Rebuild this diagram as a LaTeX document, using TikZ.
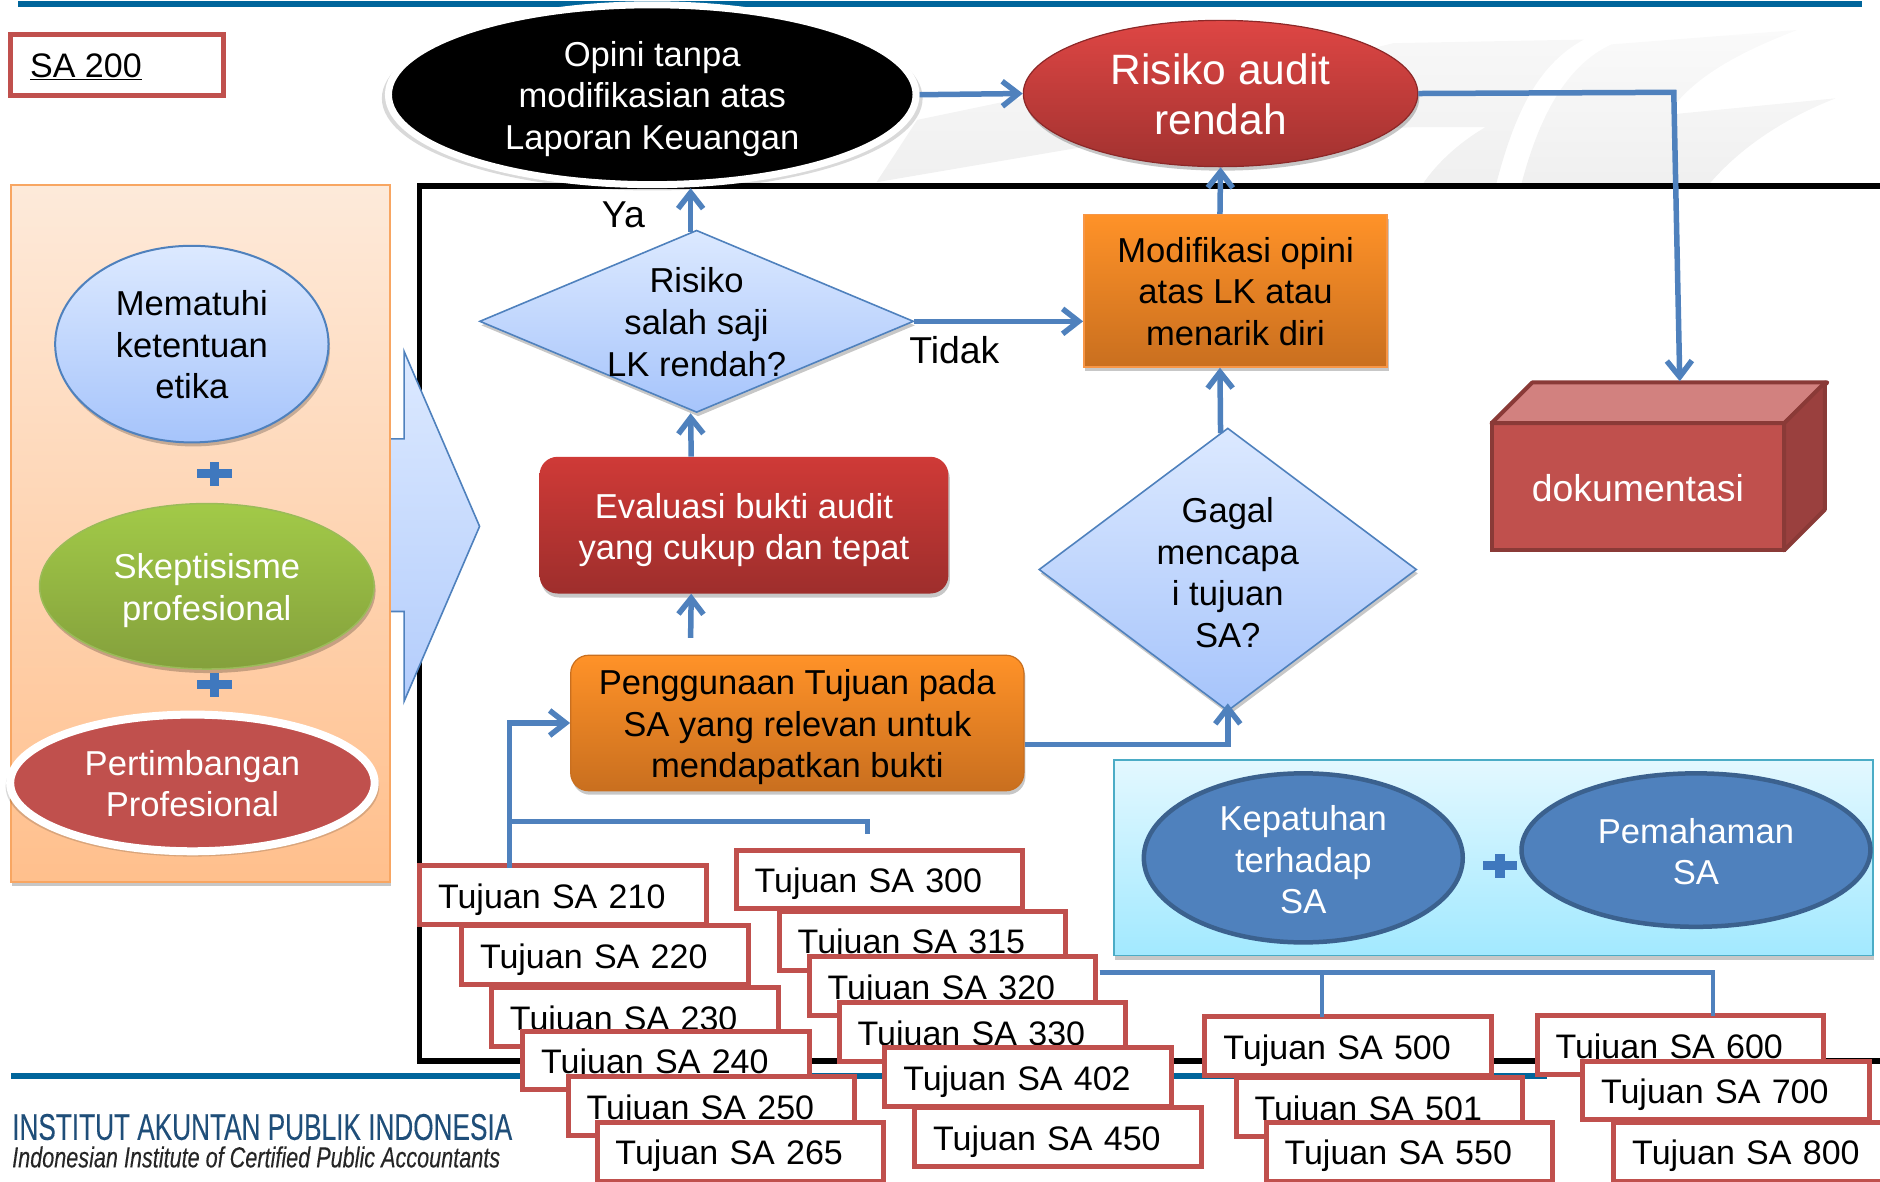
\documentclass[tikz,border=0pt]{standalone}
\usepackage{fontspec}
\setmainfont{Liberation Sans}
\newfontfamily\logofont[FakeBold=0.25]{Liberation Sans}
\usetikzlibrary{shapes.geometric,shadows,arrows.meta,calc}
\definecolor{topline}{HTML}{00659B}
\definecolor{conn}{HTML}{4F81BD}
\definecolor{redbox}{HTML}{C0504D}
\definecolor{plusc}{HTML}{3F78BE}
\definecolor{blue1}{HTML}{DCE9FF}
\definecolor{blue2}{HTML}{A6C4FB}
\definecolor{orangeT}{HTML}{FF9228}
\definecolor{orangeB}{HTML}{C96F1F}
\definecolor{orangeL}{HTML}{F79646}
\definecolor{logoblue}{HTML}{1F4E79}
\newcommand{\fsn}{\fontsize{34.6}{41.6}\selectfont}
\newcommand{\fsl}{\fontsize{34}{41.6}\selectfont}
\newcommand{\fsm}{\fontsize{37.4}{44}\selectfont}
\newcommand{\fsb}{\fontsize{42.5}{50.4}\selectfont}
\newcommand{\ctr}[1]{\smash{\makebox[0pt]{\raisebox{\dimexpr-.25em-2.4pt\relax}{\begin{tabular}[c]{@{}c@{}}#1\end{tabular}}}}}
\tikzset{
  sz/.style 2 args={minimum width=#1*1.199pt,minimum height=#2*1.199pt,inner sep=0pt},
  softshadow/.style={drop shadow={shadow xshift=1.5pt,shadow yshift=-4pt,opacity=.22,fill=black}},
  ringshadow/.style={drop shadow={shadow xshift=0pt,shadow yshift=-3.5pt,shadow scale=1.025,opacity=.15,fill=black}},
  base/.style={font=\fsn,inner sep=0pt},
  ell/.style={base,ellipse},
  dia/.style={base,diamond,top color=blue1,bottom color=blue2,draw=conn,line width=1.6pt,softshadow},
  sabox/.style={font=\fsl,rectangle,draw=redbox,line width=5pt,fill=white,anchor=north west,outer sep=0pt,
    inner xsep=18.4pt,inner ysep=0pt,text width=249.8pt,align=left,text height=28.8pt,text depth=2.2pt,minimum height=58.8pt},
  conline/.style={draw=conn,line width=5.5pt},
  conarrow/.style={conline,-{Straight Barb[length=16pt,width=25pt]}},
  plussign/.pic={
    \fill[plusc] (-14.5,-3.5) rectangle (14.5,3.5);
    \fill[plusc] (-4,-10) rectangle (4,10);
  }
}
\begin{document}
\begin{tikzpicture}[x=1.19898pt,y=-1.19898pt]
\useasboundingbox (0,0) rectangle (1568,985.8);
\clip (0,0) rectangle (1568,985.8);
% watermark
\path[top color=black!3,bottom color=black!6] (731,152) -- (765,100) -- (880,76) -- (1000,76) -- (1162,36) -- (1321,33) .. controls (1280,55) and (1262,100) .. (1248,153) -- (1187,153) .. controls (1197,138) and (1215,120) .. (1239,106) -- (1180,106) -- (930,118) -- (895,124) -- cycle;
\path[top color=black!2,bottom color=black!6] (1344,37) -- (1499,25) .. controls (1455,42) and (1420,60) .. (1398,86) -- (1398,95) -- (1531,82) .. controls (1485,100) and (1450,125) .. (1426,153) -- (1269,153) .. controls (1283,100) and (1305,55) .. (1344,37) -- cycle;
% rules
\fill[topline] (15,1) rectangle (1553,6);
\fill[topline] (9,895) rectangle (1290,900);
% logo
\node[anchor=west,inner sep=0pt,text=logoblue] (logo1) at (10,940) {\resizebox{500pt}{26pt}{\logofont INSTITUT AKUNTAN PUBLIK INDONESIA}};
\node[anchor=west,inner sep=0pt,text=black!85] (logo2) at (10,965) {\resizebox{488pt}{21pt}{\logofont\itshape Indonesian Institute of Certified Public Accountants}};
% frame
\draw[black,line width=5.5pt] (1640,155) -- (350,155) -- (350,885) -- (1640,885);
% SA 200
\node[rectangle,draw=redbox,line width=5pt,fill=white,sz={177}{51}] (sa) at (97.5,54.5) {};
\node[base,font=\fsl,anchor=west] (satext) at (25,56) {\underline{SA 200}};
% callout
\path[draw=conn,line width=1.6pt,top color=blue1,bottom color=blue2!85!white] (325,366) -- (337,366) -- (337,293) -- (400,439) -- (337,585) -- (337,510) -- (325,510) -- cycle;
% left panel
\node[rectangle,sz={316}{581},top color=orangeL!20!white,bottom color=orange!42!white!95!red,draw=orangeL!85!white,line width=2pt,softshadow] (panel) at (167,445) {};
\node[ell,sz={228}{164},top color=blue1,bottom color=blue2,draw=conn,line width=2pt,softshadow] (etika) at (160,287) {\ctr{Mematuhi\\ketentuan\\etika}};
\pic at (179,395) {plussign};
\node[ell,sz={279}{138},top color={rgb,255:red,162;green,202;blue,72},bottom color={rgb,255:red,132;green,160;blue,60},draw={rgb,255:red,155;green,187;blue,89},line width=1.5pt,softshadow,text=white] (skep) at (172.5,489) {\ctr{Skeptisisme\\profesional}};
\pic at (179,571) {plussign};
\node[ell,sz={304}{114},fill=redbox,draw=white,line width=8pt,ringshadow,text=white] (pert) at (160.5,653) {\ctr{Pertimbangan\\Profesional}};
% top ellipses
\node[ell,sz={440}{150},fill=black,draw=white,line width=7pt,ringshadow,text=white] (opini) at (544,79) {\ctr{Opini tanpa\\modifikasian atas\\Laporan Keuangan}};
\node[ell,font=\fsb,sz={329}{122},top color={rgb,255:red,222;green,70;blue,68},bottom color={rgb,255:red,162;green,50;blue,48},draw={rgb,255:red,140;green,40;blue,40},line width=1.2pt,softshadow,text=white] (risiko) at (1018,78) {\raisebox{1.8pt}{\ctr{Risiko audit\\rendah}}};
% flow
\node[dia,sz={362}{152}] (d1) at (581,268) {\ctr{Risiko\\salah saji\\LK rendah?}};
\node[dia,sz={315}{236}] (d2) at (1024,475) {\raisebox{-4.8pt}{\ctr{Gagal\\mencapa\\i tujuan\\SA?}}};
\node[base,rectangle,sz={253}{127},top color=orangeT,bottom color=orangeB,draw=orangeL,line width=1.6pt,softshadow] (mod) at (1030.5,242.5) {\ctr{Modifikasi opini\\atas LK atau\\menarik diri}};
\node[base,rectangle,rounded corners=18pt,sz={341}{114},top color={rgb,255:red,207;green,58;blue,55},bottom color={rgb,255:red,158;green,46;blue,44},text=white,softshadow] (eval) at (620.5,438) {\raisebox{-1.2pt}{\ctr{Evaluasi bukti audit\\yang cukup dan tepat}}};
\node[base,rectangle,rounded corners=18pt,sz={378}{113},top color=orangeT,bottom color=orangeB,draw=orangeB,line width=1.2pt,softshadow] (peng) at (665,603) {\ctr{Penggunaan Tujuan pada\\SA yang relevan untuk\\mendapatkan bukti}};
% document box
\node[base,font=\fsm,rectangle,outer sep=0pt,sz={244}{106},fill=redbox,draw=redbox!72!black,line width=4pt,text=white] (doc) at (1366,406) {\ctr{dokumentasi}};
\draw[fill=redbox!72!white,draw=redbox!72!black,line width=4pt,line join=round] (doc.north west) -- ++(34,-34) -- ++(246,0) -- (doc.north east) -- cycle;
\draw[fill=redbox!80!black,draw=redbox!72!black,line width=4pt,line join=round] (doc.north east) -- ++(34,-34) -- ++(0,106) -- (doc.south east) -- cycle;
% cyan panel
\node[rectangle,sz={633}{163},top color={rgb,255:red,227;green,248;blue,255},bottom color={rgb,255:red,162;green,233;blue,255},draw={rgb,255:red,75;green,172;blue,198},line width=1.8pt,softshadow] (cyanp) at (1245.5,715.5) {};
\node[ell,sz={266}{141},fill=conn,draw=conn!75!black,line width=4.5pt,text=white] (kep) at (1087,715.5) {\raisebox{-2.4pt}{\ctr{Kepatuhan\\terhadap\\SA}}};
\node[ell,sz={291}{128},fill=conn,draw=conn!75!black,line width=4.5pt,text=white] (pem) at (1414.5,709) {\raisebox{-1.8pt}{\ctr{Pemahaman\\SA}}};
\pic at (1251,722) {plussign};
% labels
\node[base,font=\fsm] (ya) at (520,179) {Ya};
\node[base,font=\fsm] (tidak) at (796,292) {Tidak};
% connectors
\draw[conarrow] (opini.east) -- (risiko.west);
\draw[conarrow] ($(d1.north)+(-5,2)$) -- ($(opini.south)+(32,0)$);
\draw[conarrow] (d1.east) -- (d1.east -| mod.west);
\draw[conarrow] ($(eval.north)+(-44,0)$) -- ($(d1.south)+(-5,0)$);
\draw[conarrow] ($(peng.north)+(-89,-14)$) -- ($(eval.south)+(-44,0)$);
\draw[conarrow] ($(peng.east)+(0,18)$) -| ($(d2.south)+(0,-7)$);
\draw[conarrow] ($(d2.north)+(-6,5)$) -- ($(mod.south)+(-13,0)$);
\draw[conarrow] ($(mod.north)+(-13,0)$) -- (risiko.south);
\coordinate (bend) at (1396,77);
\draw[conarrow] (risiko.east) -- (bend) -- ($(doc.north east)+(-87,-35)$);
% SA boxes
\foreach \nm/\tx/\px/\py in {b300/300/614/709,b315/315/650/760,b320/320/675/798,b330/330/700/836,b402/402/738/874,b450/450/763/924,
  b210/210/350/722,b220/220/385/772,b230/230/410/824,b240/240/436/860,b250/250/474/898,b265/265/498/936,
  b500/500/1005/848,b501/501/1031/899,b550/550/1056/936,
  b600/600/1282/847,b700/700/1320/885,b800/800/1346/936}
  \node[sabox] (\nm) at (\px,\py) {Tujuan SA \tx};
% box connectors
\draw[conarrow] ($(b210.north west)+(75,2)$) |- (peng.west);
\coordinate (j1) at ($(b210.north west)+(75,-37)$);
\coordinate (e1) at ($(b300.north)+(-10,-13)$);
\draw[conline,line join=miter] (j1) -| (e1);
\coordinate (j2) at ($(b320.north east)+(3,13)$);
\draw[conline,line width=4.5pt] (j2) -| ($(b500.north)+(-22,0)$);
\draw[conline,line width=4.5pt] (j2) -| ($(b600.north)+(27,0)$);
\end{tikzpicture}
\end{document}
